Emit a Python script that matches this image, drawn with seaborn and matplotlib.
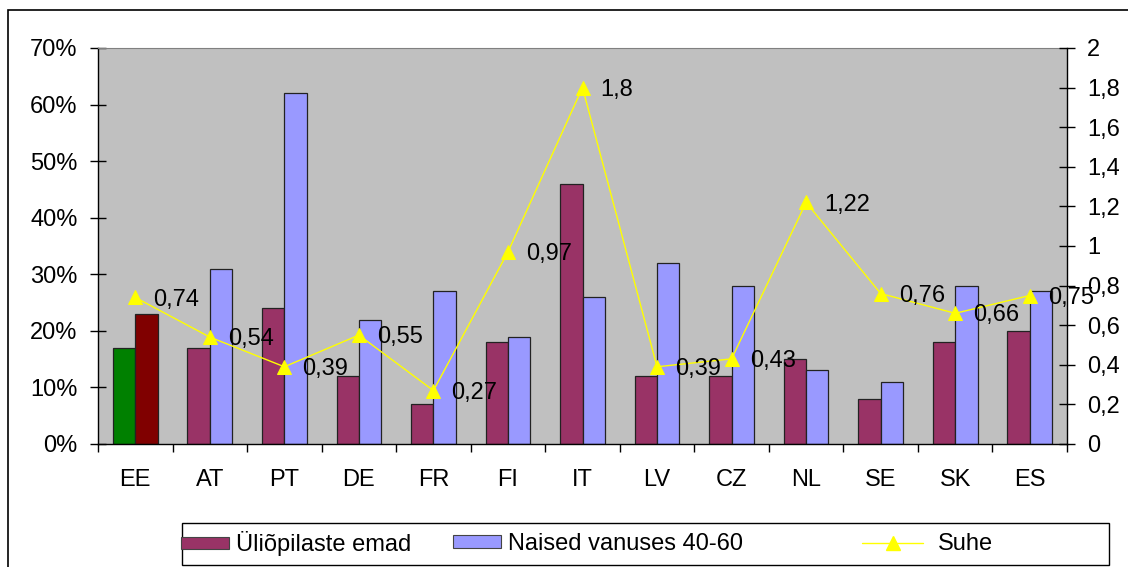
import numpy as np
import pandas as pd
import matplotlib
matplotlib.use('Agg')
import matplotlib.pyplot as plt
import seaborn as sns
from matplotlib.patches import Rectangle, Patch
from matplotlib.lines import Line2D
from matplotlib.ticker import FixedLocator, FuncFormatter

# data
countries = ['EE', 'AT', 'PT', 'DE', 'FR', 'FI', 'IT', 'LV', 'CZ', 'NL', 'SE', 'SK', 'ES']
mothers = [17, 17, 24, 12, 7, 18, 46, 12, 12, 15, 8, 18, 20]
women = [23, 31, 62, 22, 27, 19, 26, 32, 28, 13, 11, 28, 27]
ratio = [0.74, 0.54, 0.39, 0.55, 0.27, 0.97, 1.8, 0.39, 0.43, 1.22, 0.76, 0.66, 0.75]
series_names = ['Üliõpilaste emad', 'Naised vanuses 40-60', 'Suhe']

mother_color = '#993366'
women_color = '#9999FF'
ee_colors = ['#008000', '#800000']
line_color = '#FFFF00'
FS = 17

sns.set_style('white')
plt.rcParams['font.family'] = ['Liberation Sans', 'DejaVu Sans']
plt.rcParams['font.size'] = FS
plt.rcParams['text.color'] = 'black'
plt.rcParams['xtick.color'] = 'black'
plt.rcParams['ytick.color'] = 'black'


def comma(v):
    return f'{v:g}'.replace('.', ',')


df = pd.DataFrame({
    'country': countries * 2,
    'series': [series_names[0]] * len(countries) + [series_names[1]] * len(countries),
    'value': mothers + women,
})

fig = plt.figure(figsize=(11.28, 5.67), dpi=100)
ax = fig.add_axes([98 / 1128, 1 - 444 / 567, (1067 - 98) / 1128, (444 - 48) / 567])
ax.set_facecolor('#C0C0C0')

sns.barplot(data=df, x='country', y='value', hue='series',
            palette=[mother_color, women_color], saturation=1, width=0.6,
            edgecolor='#222222', linewidth=0.9, legend=False, ax=ax)

# Estonia highlighted with its own colours
ax.containers[0].patches[0].set_facecolor(ee_colors[0])
ax.containers[1].patches[0].set_facecolor(ee_colors[1])

ax.set_xlim(-0.5, len(countries) - 0.5)
ax.set_ylim(0, 70)
ax.set_yticks(range(0, 71, 10))
ax.yaxis.set_major_formatter(FuncFormatter(lambda v, p: f'{v:.0f}%'))
ax.set_xlabel('')
ax.set_ylabel('')
ax.xaxis.set_minor_locator(FixedLocator(np.arange(-0.5, len(countries), 1)))
ax.tick_params(axis='x', which='major', length=0, pad=18, labelsize=FS)
ax.tick_params(axis='x', which='minor', bottom=True, direction='out', length=6, width=1, color='black')
ax.tick_params(axis='y', left=True, direction='inout', length=11.5, width=1, pad=9, labelsize=FS, color='black')
ax.spines['top'].set_color('#808080')
ax.spines['right'].set_visible(False)
for s in ['left', 'bottom']:
    ax.spines[s].set_color('black')
    ax.spines[s].set_linewidth(1)

# ratio on the secondary axis
ax2 = ax.twinx()
x_pos = np.arange(len(countries))
sns.lineplot(x=x_pos, y=ratio, ax=ax2, color=line_color, linewidth=1,
             marker='^', markersize=10, markeredgecolor=line_color)
ax2.set_ylim(0, 2)
ax2.set_yticks(np.arange(0, 2.01, 0.2))
ax2.yaxis.set_major_formatter(FuncFormatter(lambda v, p: comma(round(v, 1))))
ax2.tick_params(axis='y', right=True, direction='inout', length=11, width=1, pad=9, labelsize=FS, color='black')
for s in ['top', 'left', 'bottom']:
    ax2.spines[s].set_visible(False)
ax2.spines['right'].set_color('black')
ax2.spines['right'].set_linewidth(1)

for xi, r in zip(x_pos, ratio):
    ax2.annotate(comma(r), (xi, r), xytext=(13, -1.5), textcoords='offset points',
                 ha='left', va='center', fontsize=FS, annotation_clip=False)

# legend: one entry per legend so each sits where the original has it, box drawn separately
leg_y = 1 - 544 / 567
handles = [Patch(facecolor=mother_color, edgecolor='#444444', linewidth=0.8),
           Patch(facecolor=women_color, edgecolor='#444444', linewidth=0.8),
           Line2D([], [], color=line_color, linewidth=1, marker='^', markersize=10)]
entry_x = [181, 453, 862]
handle_len = [2.05, 2.05, 2.6]
text_pad = [0.3, 0.3, 0.6]
for h, name, x0, hl, tp in zip(handles, series_names, entry_x, handle_len, text_pad):
    leg = fig.legend([h], [name], loc='center left', bbox_to_anchor=(x0 / 1128, leg_y),
                     frameon=False, borderpad=0, borderaxespad=0, fontsize=FS,
                     handlelength=hl, handleheight=0.45, handletextpad=tp)
fig.add_artist(Rectangle((182 / 1128, 2 / 567), 927 / 1128, 42 / 567, transform=fig.transFigure,
                         fill=False, edgecolor='black', linewidth=1))

# outer chart border
fig.add_artist(Rectangle((8 / 1128, -0.1), 1.2, 1.1 - 10 / 567, transform=fig.transFigure,
                         fill=False, edgecolor='black', linewidth=1.2))

fig.savefig('out.png', dpi=100)
